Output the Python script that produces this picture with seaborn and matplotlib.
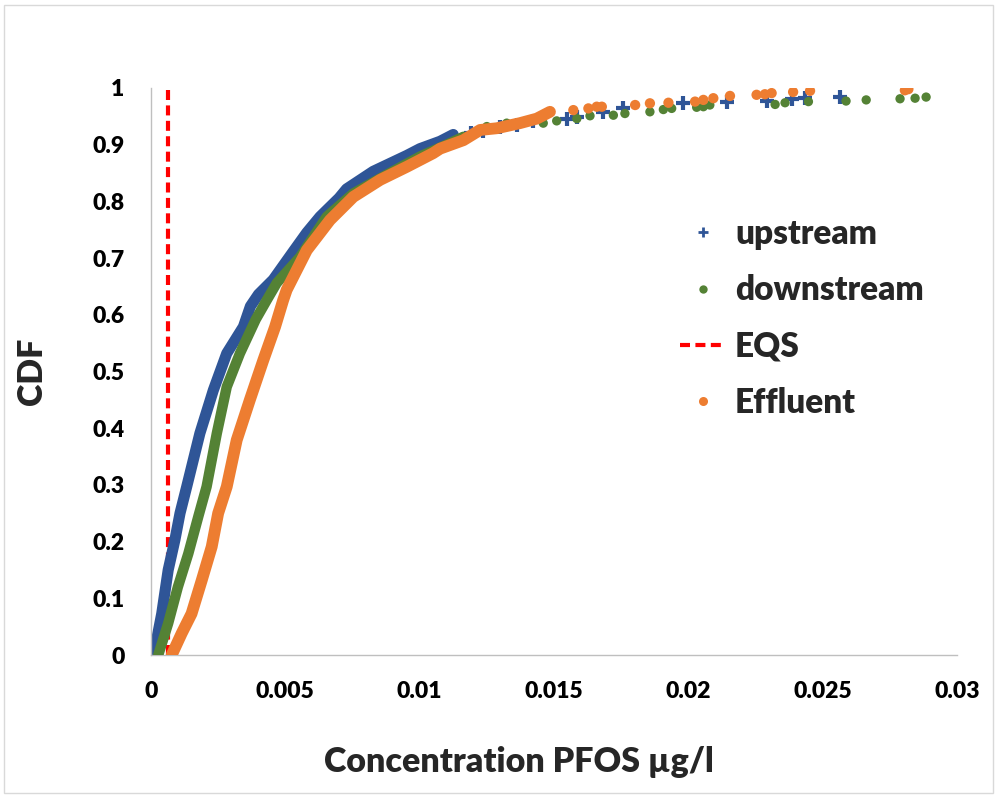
#!/usr/bin/env python3
import matplotlib
matplotlib.use("Agg")
import matplotlib.pyplot as plt
import seaborn as sns
import pandas as pd
from matplotlib.lines import Line2D
from matplotlib.patches import Rectangle

# values (concentration in ug/l, cumulative fraction)
upstream_dense_x = [0.0001, 0.0004, 0.00064, 0.00089, 0.00108, 0.00133, 0.00182, 0.00232,
                    0.00282, 0.00344, 0.0037, 0.0040, 0.00455, 0.0053, 0.0058, 0.00629,
                    0.0070, 0.00728, 0.00827, 0.00952, 0.01001, 0.01076, 0.01125]
upstream_dense_y = [0.0, 0.073, 0.15, 0.203, 0.25, 0.297, 0.391, 0.467,
                    0.532, 0.579, 0.615, 0.636, 0.662, 0.712, 0.745, 0.773,
                    0.806, 0.822, 0.853, 0.881, 0.893, 0.906, 0.918]
upstream_tail_x = [0.0119, 0.01237, 0.0130, 0.01361, 0.01423, 0.01547, 0.01585, 0.01684,
                   0.01758, 0.0198, 0.02143, 0.02292, 0.02385, 0.02434, 0.02564]
upstream_tail_y = [0.921, 0.925, 0.932, 0.934, 0.941, 0.946, 0.948, 0.958,
                   0.964, 0.973, 0.976, 0.977, 0.981, 0.983, 0.985]

downstream_dense_x = [0.00027, 0.00064, 0.0010, 0.00139, 0.00176, 0.00207, 0.00245, 0.00282,
                      0.00331, 0.0039, 0.00431, 0.00468, 0.00555, 0.00654, 0.00753, 0.00877,
                      0.01001, 0.0110, 0.01163]
downstream_dense_y = [0.0, 0.056, 0.12, 0.179, 0.244, 0.297, 0.391, 0.473,
                      0.532, 0.592, 0.626, 0.656, 0.702, 0.773, 0.814, 0.847,
                      0.879, 0.900, 0.914]
downstream_tail_x = [0.0125, 0.01324, 0.0146, 0.0151, 0.01585, 0.01634, 0.01721, 0.01764,
                     0.01857, 0.01907, 0.01938, 0.02031, 0.02056, 0.0208, 0.02323, 0.0236,
                     0.02447, 0.02587, 0.02662, 0.02788, 0.02844, 0.02885]
downstream_tail_y = [0.932, 0.938, 0.938, 0.942, 0.946, 0.951, 0.952, 0.955,
                     0.958, 0.962, 0.964, 0.966, 0.967, 0.970, 0.971, 0.974,
                     0.976, 0.977, 0.979, 0.981, 0.982, 0.984]

effluent_dense_x = [0.00077, 0.00114, 0.00151, 0.00189, 0.00226, 0.0025, 0.00282, 0.00319,
                    0.00368, 0.00418, 0.00462, 0.00492, 0.00505, 0.0058, 0.00666, 0.00753,
                    0.00853, 0.00952, 0.0105, 0.01076, 0.01163, 0.01225, 0.01287, 0.01373,
                    0.01436, 0.01485]
effluent_dense_y = [0.0, 0.038, 0.073, 0.132, 0.191, 0.25, 0.297, 0.379,
                    0.45, 0.52, 0.579, 0.626, 0.644, 0.714, 0.767, 0.808,
                    0.838, 0.861, 0.885, 0.893, 0.908, 0.926, 0.929, 0.938,
                    0.946, 0.958]
effluent_tail_x = [0.01572, 0.01628, 0.01659, 0.01678, 0.01802, 0.01857, 0.01926, 0.02025,
                   0.02056, 0.02093, 0.02155, 0.02254, 0.02285, 0.0231, 0.0239, 0.02453,
                   0.02806, 0.02819]
effluent_tail_y = [0.961, 0.964, 0.967, 0.967, 0.970, 0.973, 0.974, 0.976,
                   0.979, 0.982, 0.986, 0.988, 0.989, 0.991, 0.993, 0.995,
                   0.996, 0.998]

eqs_x = [0.00065, 0.00065]
eqs_y = [0.0, 1.0]

x_ticks = [0, 0.005, 0.01, 0.015, 0.02, 0.025, 0.03]
x_tick_labels = ["0", "0.005", "0.01", "0.015", "0.02", "0.025", "0.03"]
y_ticks = [0, 0.1, 0.2, 0.3, 0.4, 0.5, 0.6, 0.7, 0.8, 0.9, 1.0]
y_tick_labels = ["0", "0.1", "0.2", "0.3", "0.4", "0.5", "0.6", "0.7", "0.8", "0.9", "1"]

BLUE = "#2F5597"
GREEN = "#548235"
ORANGE = "#ED7D31"
RED = "#FF0000"
EQS_DASH = (0, (2.4, 1.3))

sns.set_theme(style="white")
plt.rcParams["font.family"] = ["Lato", "DejaVu Sans"]
plt.rcParams["font.weight"] = "heavy"

fig = plt.figure(figsize=(9.97, 7.98), dpi=100)
ax = fig.add_axes([151 / 997, 1 - 655 / 798, 806 / 997, 567 / 798])

# EQS line sits under everything
sns.lineplot(x=eqs_x, y=eqs_y, ax=ax, color=RED, lw=3, zorder=1, sort=False,
             estimator=None, errorbar=None)
ax.lines[-1].set_linestyle(EQS_DASH)

series = [
    (upstream_dense_x, upstream_dense_y, upstream_tail_x, upstream_tail_y, BLUE, 8.0, "+", 2),
    (downstream_dense_x, downstream_dense_y, downstream_tail_x, downstream_tail_y, GREEN, 7.5, "o", 3),
    (effluent_dense_x, effluent_dense_y, effluent_tail_x, effluent_tail_y, ORANGE, 8.5, "o", 4),
]
for dx, dy, tx, ty, col, lw, mk, z in series:
    dense = pd.DataFrame({"x": dx, "y": dy})
    sns.lineplot(data=dense, x="x", y="y", ax=ax, color=col, lw=lw, sort=False,
                 estimator=None, errorbar=None,
                 solid_capstyle="round", solid_joinstyle="round", zorder=z)
    tail = pd.DataFrame({"x": tx, "y": ty})
    if mk == "+":
        sns.scatterplot(data=tail, x="x", y="y", ax=ax, color=col, marker="+",
                        s=95, linewidth=3, zorder=z)
    else:
        sns.scatterplot(data=tail, x="x", y="y", ax=ax, color=col, marker="o",
                        s=55 if col == ORANGE else 45, edgecolor="none", zorder=z)

ax.set_xlim(0, 0.03)
ax.set_ylim(0, 1)
ax.set_xticks(x_ticks)
ax.set_xticklabels(x_tick_labels)
ax.set_yticks(y_ticks)
ax.set_yticklabels(y_tick_labels)
ax.tick_params(axis="both", direction="in", length=6, width=1, color="#BFBFBF",
               labelsize=16.5, pad=19, labelcolor="black")
for side in ["top", "right"]:
    ax.spines[side].set_visible(False)
for side in ["left", "bottom"]:
    ax.spines[side].set_color("#BFBFBF")
    ax.spines[side].set_linewidth(1)
ax.grid(False)

ax.set_xlabel("Concentration PFOS µg/l", fontsize=24.5, fontweight="heavy")
ax.set_ylabel("CDF", fontsize=24.5, fontweight="heavy")
ax.xaxis.set_label_coords(0.4566, -0.16)
ax.yaxis.set_label_coords(-0.128, 0.5)

handles = [
    Line2D([], [], color=BLUE, marker="+", ls="none", markersize=7, markeredgewidth=2),
    Line2D([], [], color=GREEN, marker="o", ls="none", markersize=6, markeredgewidth=0),
    Line2D([], [], color=RED, lw=3, ls=EQS_DASH),
    Line2D([], [], color=ORANGE, marker="o", ls="none", markersize=6.5, markeredgewidth=0),
]
labels = ["upstream", "downstream", "EQS", "Effluent"]
fig.legend(handles, labels, loc="center left", bbox_to_anchor=(680 / 997, 1 - 318.5 / 798),
           frameon=False, handlelength=1.35, handletextpad=0.3,
           labelspacing=0.73, borderpad=0, borderaxespad=0,
           prop={"weight": "heavy", "size": 24})

# light chart-area border
fig.patches.append(Rectangle((4 / 997, 5 / 798), 989 / 997, 788 / 798, transform=fig.transFigure,
                             fill=False, edgecolor="#D9D9D9", lw=1))

fig.savefig("out.png", dpi=100)
